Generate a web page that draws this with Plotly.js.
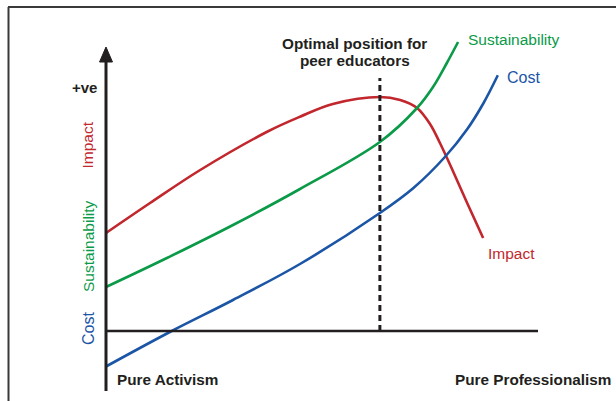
<!DOCTYPE html>
<html>
<head>
<meta charset="utf-8">
<script src="https://cdn.plot.ly/plotly-3.0.1.min.js"></script>
<style>
  html, body { margin: 0; padding: 0; background: #fff; }
  #chart { width: 616px; height: 401px; }
</style>
</head>
<body>
<div id="chart"></div>
<script>
// x: 0 = pure activism, 10 = pure professionalism; y: 0 = the baseline axis
var impactX = [0, 1.02, 2.18, 3.73, 4.49, 5.25, 6.34, 6.81, 7.20, 7.50, 7.73, 8.03, 8.36, 8.73];
var impactY = [3.92, 5.12, 6.44, 7.97, 8.57, 9.08, 9.36, 9.24, 8.92, 8.28, 7.52, 6.40, 5.12, 3.72];

var sustainX = [0, 1.41, 2.94, 4.49, 6.34, 7.20, 7.57, 7.89, 8.15];
var sustainY = [1.76, 2.92, 4.24, 5.68, 7.56, 8.92, 9.76, 10.72, 11.56];

var costX = [0, 1.50, 2.94, 4.49, 6.34, 7.11, 7.85, 8.36, 8.73, 9.07];
var costY = [-1.42, -0.02, 1.24, 2.68, 4.72, 5.71, 6.97, 8.07, 9.09, 10.23];

var optimalX = 6.34;
var axisTop = 10.76;
var arrowTip = 11.36;
var axisBottom = -2.4;
var xAxisEnd = 10;

var COLORS = {
    impact: '#c1272d',
    sustain: '#0a9a48',
    cost: '#1b55a6',
    ink: '#231f20'
};

var FONT = 'Liberation Sans, Arial, sans-serif';

function curve(x, y, name, color) {
    return {
        x: x,
        y: y,
        name: name,
        type: 'scatter',
        mode: 'lines',
        line: { color: color, width: 2.6, shape: 'spline', smoothing: 1 },
        hoverinfo: 'skip'
    };
}

function label(text, x, y, color, opts) {
    opts = opts || {};
    return {
        x: x, y: y, xref: 'x', yref: 'y',
        text: text,
        showarrow: false,
        xanchor: opts.xanchor || 'left',
        yanchor: 'middle',
        textangle: opts.angle || 0,
        font: { family: FONT, size: opts.size || 15.5, color: color }
    };
}

var data = [
    curve(impactX, impactY, 'Impact', COLORS.impact),
    curve(sustainX, sustainY, 'Sustainability', COLORS.sustain),
    curve(costX, costY, 'Cost', COLORS.cost)
];

var shapes = [
    // outer frame, cut off at right and bottom
    { type: 'line', xref: 'paper', yref: 'paper', x0: 8 / 616, x1: 1.05, y0: 1 - 7 / 401, y1: 1 - 7 / 401,
      line: { color: '#3a3a3a', width: 2 } },
    { type: 'line', xref: 'paper', yref: 'paper', x0: 8.5 / 616, x1: 8.5 / 616, y0: -0.05, y1: 1 - 7 / 401,
      line: { color: '#3a3a3a', width: 2 } },
    // y axis with arrow
    { type: 'line', x0: 0, x1: 0, y0: axisBottom, y1: axisTop, line: { color: COLORS.ink, width: 3 } },
    { type: 'path', path: 'M -0.15 ' + axisTop + ' L 0 ' + arrowTip + ' L 0.15 ' + axisTop + ' Z',
      fillcolor: COLORS.ink, line: { color: COLORS.ink, width: 1 } },
    // x axis
    { type: 'line', x0: 0, x1: xAxisEnd, y0: 0, y1: 0, line: { color: COLORS.ink, width: 2.6 } },
    // optimal position marker
    { type: 'line', x0: optimalX, x1: optimalX, y0: 0, y1: 10.12,
      line: { color: COLORS.ink, width: 3, dash: '6px,4px' } }
];

var annotations = [
    label('<b>Optimal position for</b>', 5.76, 11.52, COLORS.ink, { xanchor: 'center', size: 15.3 }),
    label('<b>peer educators</b>', 5.76, 10.84, COLORS.ink, { xanchor: 'center', size: 15.3 }),
    label('Sustainability', 8.33, 11.68, COLORS.sustain),
    label('Cost', 9.24, 10.14, COLORS.cost, { size: 16 }),
    label('Impact', 8.80, 3.12, COLORS.impact),
    label('<b>+ve</b>', -0.17, 9.74, COLORS.ink, { xanchor: 'right', size: 15 }),
    label('Impact', -0.417, 7.46, COLORS.impact, { xanchor: 'center', angle: -90 }),
    label('Sustainability', -0.417, 3.4, COLORS.sustain, { xanchor: 'center', angle: -90 }),
    label('Cost', -0.417, 0.12, COLORS.cost, { xanchor: 'center', angle: -90, size: 16 }),
    label('<b>Pure Activism</b>', 0.21, -1.92, COLORS.ink, { size: 15.3 }),
    label('<b>Pure Professionalism</b>', 11.74, -1.92, COLORS.ink, { xanchor: 'right', size: 15.3 })
];

var layout = {
    width: 616,
    height: 401,
    margin: { l: 0, r: 0, t: 0, b: 0 },
    paper_bgcolor: '#fff',
    plot_bgcolor: '#fff',
    showlegend: false,
    xaxis: { range: [-106 / 43.2, 510 / 43.2], visible: false, fixedrange: true },
    yaxis: { range: [-70 / 25, 331 / 25], visible: false, fixedrange: true },
    shapes: shapes,
    annotations: annotations
};

Plotly.newPlot('chart', data, layout, { displayModeBar: false, staticPlot: true });
</script>
</body>
</html>
